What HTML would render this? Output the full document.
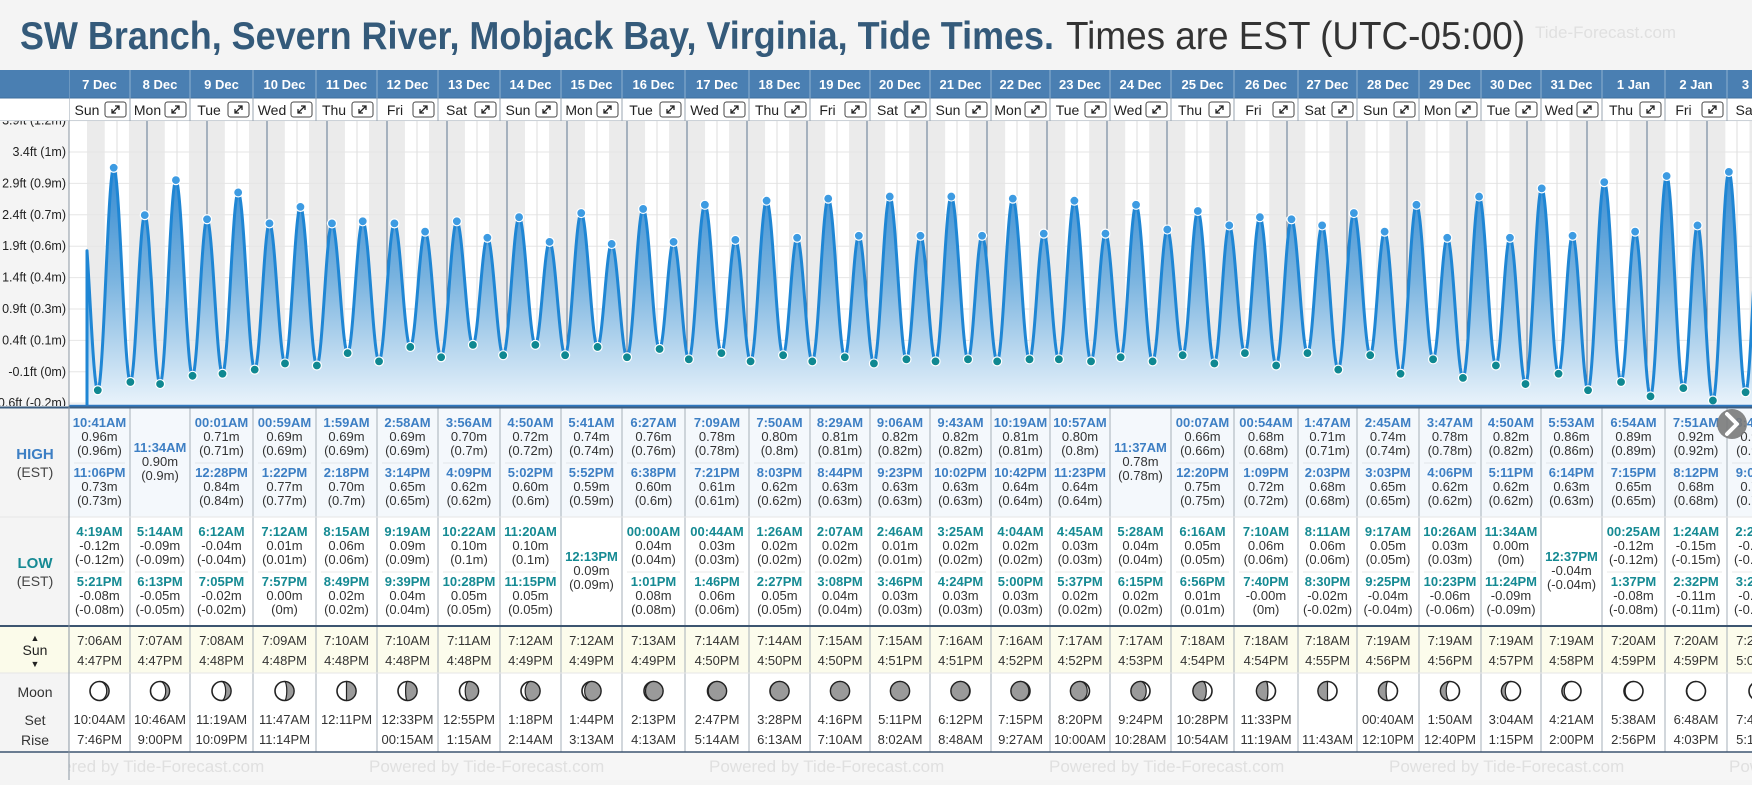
<!DOCTYPE html>
<html><head><meta charset="utf-8">
<style>
html,body{margin:0;padding:0;background:#f4f4f4;}
body{width:1752px;height:780px;overflow:hidden;font-family:"Liberation Sans",Arial,sans-serif;}
svg text{font-family:"Liberation Sans",Arial,sans-serif;}
</style></head>
<body>
<svg id="root" width="1752" height="780" viewBox="0 0 1752 780" xmlns="http://www.w3.org/2000/svg">
<defs>
<linearGradient id="fillGrad" gradientUnits="userSpaceOnUse" x1="0" y1="150" x2="0" y2="405">
<stop offset="0" stop-color="#2a84cf"/><stop offset="0.5" stop-color="#79b3df"/><stop offset="1" stop-color="#e9f3fb"/>
</linearGradient>
<clipPath id="chartClip"><rect x="69" y="121" width="1683" height="285"/></clipPath>
<clipPath id="axisClip"><rect x="0" y="121" width="69" height="285"/></clipPath>
<clipPath id="tableClip"><rect x="69" y="60" width="1683" height="720"/></clipPath>
</defs>
<rect x="0" y="0" width="1752" height="780" fill="#f4f4f4"/>
<text x="20" y="49" font-size="39" fill="#345a7a" font-weight="bold" textLength="1034" lengthAdjust="spacingAndGlyphs">SW Branch, Severn River, Mobjack Bay, Virginia, Tide Times.</text>
<text x="1066" y="49" font-size="39" fill="#333" textLength="459" lengthAdjust="spacingAndGlyphs">Times are EST (UTC-05:00)</text>
<text x="1535" y="38" font-size="17" fill="#e0e0e0">Tide-Forecast.com</text>
<g id="chart"></g>
<g id="table"></g>
</svg>
<script>
const days=['7 Dec','8 Dec','9 Dec','10 Dec','11 Dec','12 Dec','13 Dec','14 Dec','15 Dec','16 Dec','17 Dec','18 Dec','19 Dec','20 Dec','21 Dec','22 Dec','23 Dec','24 Dec','25 Dec','26 Dec','27 Dec','28 Dec','29 Dec','30 Dec','31 Dec','1 Jan','2 Jan','3 Jan'];
const dows=['Sun','Mon','Tue','Wed','Thu','Fri','Sat','Sun','Mon','Tue','Wed','Thu','Fri','Sat','Sun','Mon','Tue','Wed','Thu','Fri','Sat','Sun','Mon','Tue','Wed','Thu','Fri','Sat'];
const highTimes=[['10:41AM','11:06PM'],['11:34AM'],['00:01AM','12:28PM'],['00:59AM','1:22PM'],['1:59AM','2:18PM'],['2:58AM','3:14PM'],['3:56AM','4:09PM'],['4:50AM','5:02PM'],['5:41AM','5:52PM'],['6:27AM','6:38PM'],['7:09AM','7:21PM'],['7:50AM','8:03PM'],['8:29AM','8:44PM'],['9:06AM','9:23PM'],['9:43AM','10:02PM'],['10:19AM','10:42PM'],['10:57AM','11:23PM'],['11:37AM'],['00:07AM','12:20PM'],['00:54AM','1:09PM'],['1:47AM','2:03PM'],['2:45AM','3:03PM'],['3:47AM','4:06PM'],['4:50AM','5:11PM'],['5:53AM','6:14PM'],['6:54AM','7:15PM'],['7:51AM','8:12PM'],['8:45AM','9:06PM']];
const highVals=[[0.96,0.73],[0.90],[0.71,0.84],[0.69,0.77],[0.69,0.70],[0.69,0.65],[0.70,0.62],[0.72,0.60],[0.74,0.59],[0.76,0.60],[0.78,0.61],[0.80,0.62],[0.81,0.63],[0.82,0.63],[0.82,0.63],[0.81,0.64],[0.80,0.64],[0.78],[0.66,0.75],[0.68,0.72],[0.71,0.68],[0.74,0.65],[0.78,0.62],[0.82,0.62],[0.86,0.63],[0.89,0.65],[0.92,0.68],[0.94,0.71]];
const lowTimes=[['4:19AM','5:21PM'],['5:14AM','6:13PM'],['6:12AM','7:05PM'],['7:12AM','7:57PM'],['8:15AM','8:49PM'],['9:19AM','9:39PM'],['10:22AM','10:28PM'],['11:20AM','11:15PM'],['12:13PM'],['00:00AM','1:01PM'],['00:44AM','1:46PM'],['1:26AM','2:27PM'],['2:07AM','3:08PM'],['2:46AM','3:46PM'],['3:25AM','4:24PM'],['4:04AM','5:00PM'],['4:45AM','5:37PM'],['5:28AM','6:15PM'],['6:16AM','6:56PM'],['7:10AM','7:40PM'],['8:11AM','8:30PM'],['9:17AM','9:25PM'],['10:26AM','10:23PM'],['11:34AM','11:24PM'],['12:37PM'],['00:25AM','1:37PM'],['1:24AM','2:32PM'],['2:22AM','3:26PM']];
const lowVals=[[-0.12,-0.08],[-0.09,-0.05],[-0.04,-0.02],[0.01,0.00],[0.06,0.02],[0.09,0.04],[0.10,0.05],[0.10,0.05],[0.09],[0.04,0.08],[0.03,0.06],[0.02,0.05],[0.02,0.04],[0.01,0.03],[0.02,0.03],[0.02,0.03],[0.03,0.02],[0.04,0.02],[0.05,0.01],[0.06,-0],[0.06,-0.02],[0.05,-0.04],[0.03,-0.06],[0.00,-0.09],[-0.04],[-0.12,-0.08],[-0.15,-0.11],[-0.17,-0.13]];
const sunRise=['7:06AM','7:07AM','7:08AM','7:09AM','7:10AM','7:10AM','7:11AM','7:12AM','7:12AM','7:13AM','7:14AM','7:14AM','7:15AM','7:15AM','7:16AM','7:16AM','7:17AM','7:17AM','7:18AM','7:18AM','7:18AM','7:19AM','7:19AM','7:19AM','7:19AM','7:20AM','7:20AM','7:20AM'];
const sunSet=['4:47PM','4:47PM','4:48PM','4:48PM','4:48PM','4:48PM','4:48PM','4:49PM','4:49PM','4:49PM','4:50PM','4:50PM','4:50PM','4:51PM','4:51PM','4:52PM','4:52PM','4:53PM','4:54PM','4:54PM','4:55PM','4:56PM','4:56PM','4:57PM','4:58PM','4:59PM','4:59PM','5:00PM'];
const moonRow1=['10:04AM','10:46AM','11:19AM','11:47AM','12:11PM','12:33PM','12:55PM','1:18PM','1:44PM','2:13PM','2:47PM','3:28PM','4:16PM','5:11PM','6:12PM','7:15PM','8:20PM','9:24PM','10:28PM','11:33PM','','00:40AM','1:50AM','3:04AM','4:21AM','5:38AM','6:48AM','7:47AM'];
const moonRow2=['7:46PM','9:00PM','10:09PM','11:14PM','','00:15AM','1:15AM','2:14AM','3:13AM','4:13AM','5:14AM','6:13AM','7:10AM','8:02AM','8:48AM','9:27AM','10:00AM','10:28AM','10:54AM','11:19AM','11:43AM','12:10PM','12:40PM','1:15PM','2:00PM','2:56PM','4:03PM','5:18PM'];
const moonDark=[0.12,0.2,0.28,0.38,0.5,0.6,0.7,0.78,0.86,0.92,0.96,0.99,1,1,0.98,0.94,0.88,0.8,0.7,0.6,0.5,0.4,0.3,0.2,0.12,0.06,0.02,0];
const moonWaxing=[0,0,0,0,0,0,0,0,0,0,0,0,0,1,1,1,1,1,1,1,1,1,1,1,1,1,1,1];
const axisFt=[-0.6,-0.1,0.4,0.9,1.4,1.9,2.4,2.9,3.4,3.9];
const axisM=['-0.2m','0m','0.1m','0.3m','0.4m','0.6m','0.7m','0.9m','1m','1.2m'];
const leadHighTime=-1.9, leadHighVal=0.74;
const colEdges=[69,130,190,253,316,377,438,500,561,622,685,749,810,870,930,991,1050,1110,1171,1234,1298,1357,1419,1481,1541,1602,1665,1727,1790];

const NS='http://www.w3.org/2000/svg';
function mk(parent,tag,attrs,txt){const e=document.createElementNS(NS,tag);for(const k in attrs)e.setAttribute(k,attrs[k]);if(txt!==undefined)e.textContent=txt;parent.appendChild(e);return e;}
function parseT(s){const m=s.match(/(\d+):(\d+)(AM|PM)/);let h=(+m[1])%12;if(m[3]==='PM')h+=12;return h+(+m[2])/60;}
const X0=87,PXD=60,Y0=365.5,PXM=206;
function xOf(d,h){return X0+PXD*(d+h/24);}
function yOf(m){return Y0-PXM*m;}
function fmtV(v){return (Object.is(v,-0)?'-0.00':v.toFixed(2))+'m';}
function fmtP(v){return '('+parseFloat(v.toFixed(2))+'m)';}

const chart=document.getElementById('chart');
const table=document.getElementById('table');
// header bar
let e=mk(chart,'rect',{x:0,y:70,width:1752,height:28,fill:'#4a7fb2'});


e=mk(chart,'rect',{x:0,y:98,width:1752,height:23,fill:'#ffffff'});


mk(chart,'line',{x1:0,y1:98,x2:1752,y2:98,stroke:'#3f6f9e','stroke-width':1});
mk(chart,'line',{x1:0,y1:121,x2:1752,y2:121,stroke:'#9aa6b2','stroke-width':1});
// plot area bg
e=mk(chart,'rect',{x:69,y:121,width:1683,height:285,fill:'#ffffff'});


e=mk(chart,'rect',{x:0,y:121,width:69,height:286,fill:'#f4f4f4'});



const plot=mk(chart,'g',{'clip-path':'url(#chartClip)'});
// night bands
for(let d=0;d<days.length+1;d++){
  const r=d<days.length?parseT(sunRise[d]):7.33, s=d<days.length?parseT(sunSet[d]):17;
  e=mk(plot,'rect',{x:xOf(d,0),y:121,width:xOf(d,r)-xOf(d,0),height:285,fill:'#ebebeb'});
  
  
  e=mk(plot,'rect',{x:xOf(d,s),y:121,width:xOf(d,24)-xOf(d,s),height:285,fill:'#ebebeb'});
  
  
}
// horizontal grid
axisFt.forEach(f=>{const y=yOf(f*0.3048);e=mk(plot,'line',{x1:69,x2:1752,y1:y,y2:y,stroke:'#e6e6e6','stroke-width':1});

});
// vertical lines
for(let d=0;d<=days.length;d++){
  e=mk(plot,'line',{x1:xOf(d,12),x2:xOf(d,12),y1:121,y2:406,stroke:'#dedede','stroke-width':1});
  
  
  if(d>0){e=mk(plot,'line',{x1:xOf(d,0),x2:xOf(d,0),y1:121,y2:406,stroke:'#5f7790','stroke-width':1});
  
  }
}
// extremes
const ext=[{t:leadHighTime,v:leadHighVal,h:1,lead:1}];
days.forEach((_,d)=>{
  const list=[];
  highTimes[d].forEach((t,i)=>list.push({t:d*24+parseT(t),v:highVals[d][i],h:1}));
  lowTimes[d].forEach((t,i)=>list.push({t:d*24+parseT(t),v:lowVals[d][i],h:0}));
  list.sort((a,b)=>a.t-b.t);ext.push(...list);
});
let pts=[];
for(let i=0;i<ext.length-1;i++){
  const a=ext[i],b=ext[i+1];
  for(let t=Math.max(a.t,0);t<b.t;t+=0.2){
    const f=(t-a.t)/(b.t-a.t);const v=a.v+(b.v-a.v)*(1-Math.cos(Math.PI*f))/2;
    pts.push([X0+PXD*t/24,yOf(v)]);
  }
}
const last=ext[ext.length-1];pts.push([X0+PXD*last.t/24,yOf(last.v)]);
const line=pts.map((p,i)=>(i?'L':'M')+p[0].toFixed(1)+' '+p[1].toFixed(1)).join(' ');
e=mk(plot,'path',{d:line+' L'+pts[pts.length-1][0].toFixed(1)+' 406 L'+X0+' 406 Z',fill:'url(#fillGrad)'});


e=mk(plot,'path',{d:'M'+X0+' 406 L'+pts[0][0]+' '+pts[0][1]+' '+line.slice(1),fill:'none',stroke:'#1f86d4','stroke-width':3,'stroke-linejoin':'round'});


ext.forEach(p=>{if(p.lead)return;
  e=mk(plot,'circle',{cx:X0+PXD*p.t/24,cy:yOf(p.v),r:4.5,fill:p.h?'#3d9be2':'#0f8891',stroke:'#fff','stroke-width':1.2});
  
  
});
mk(chart,'line',{x1:69,x2:1752,y1:406,y2:406,stroke:'#2f78c0','stroke-width':2.5});
mk(chart,'line',{x1:69,x2:69,y1:121,y2:407,stroke:'#8a96a2','stroke-width':1});
// y axis labels
const ax=mk(chart,'g',{'clip-path':'url(#axisClip)'});
axisFt.forEach((f,i)=>{e=mk(ax,'text',{x:66,y:yOf(f*0.3048)+4,'font-size':12.5,fill:'#222','text-anchor':'end'},f+'ft ('+axisM[i]+')');

});

// table backgrounds
const T=mk(table,'g',{});
[[407,110,'#f4f8fc','high-section'],[517,109,'#ffffff','low-section'],[626,47,'#fcfcec','sun-section'],[673,79,'#ffffff','moon-section']].forEach(r=>{
  e=mk(T,'rect',{x:69,y:r[0],width:1683,height:r[1],fill:r[2]});
  
  
});
e=mk(T,'rect',{x:0,y:407,width:69,height:345,fill:'#f4f4f4'});


mk(T,'rect',{x:0,y:626,width:69,height:47,fill:'#fbfbea'});
mk(T,'rect',{x:69,y:752,width:1683,height:28,fill:'#f6f6f6'});
// labels
function lbl(x,y,s,t,fill,w,name){e=mk(T,'text',{x:x,y:y,'font-size':s,fill:fill,'font-weight':w,'text-anchor':'middle'},t);

}
lbl(35,459,15,'HIGH','#3d7fc4','bold','high-label');lbl(35,477,14,'(EST)','#444','normal','high-tz-label');
lbl(35,568,15,'LOW','#178a94','bold','low-label');lbl(35,586,14,'(EST)','#444','normal','low-tz-label');
lbl(35,641,9,'▲','#222','normal','sunrise-marker');lbl(35,655,14,'Sun','#222','normal','sun-label');lbl(35,667,9,'▼','#222','normal','sunset-marker');
lbl(35,697,14,'Moon','#333','normal','moon-label');lbl(35,725,14,'Set','#333','normal','moon-set-label');lbl(35,745,14,'Rise','#333','normal','moon-rise-label');

const C=mk(table,'g',{'clip-path':'url(#tableClip)'});
// footer watermarks
for(let k=0;k<6;k++){e=mk(C,'text',{x:29+340*k,y:772,'font-size':17,fill:'#e0e0e0'},'Powered by Tide-Forecast.com');

}
function ct(x,y,s,t,fill,w,name){e=mk(C,'text',{x:x,y:y,'font-size':s,fill:fill,'font-weight':w,'text-anchor':'middle'},t);

}
function tideEntries(times,vals,y1,ySingle,color,name){
  if(times.length===1){return [[times[0],vals[0],ySingle]];}
  return times.map((t,i)=>[t,vals[i],y1+i*50]);
}
days.forEach((d,i)=>{
  const a=colEdges[i],b=colEdges[i+1],cx=(a+b)/2;
  ct(cx,89,13,d,'#ffffff','bold','date-header');
  const lx=(a+b-25)/2;
  ct(lx,115,14,dows[i],'#222','normal','weekday-label');
  e=mk(C,'rect',{x:b-25,y:102,width:21,height:15,rx:2.5,fill:'#fff',stroke:'#444','stroke-width':1});
  
  
  const ix=b-25,iy=102;
  mk(C,'path',{d:`M${ix+7} ${iy+11} L${ix+14} ${iy+4} M${ix+10} ${iy+4} L${ix+14} ${iy+4} L${ix+14} ${iy+8} M${ix+7} ${iy+7} L${ix+7} ${iy+11} L${ix+11} ${iy+11}`,stroke:'#222','stroke-width':1.3,fill:'none'});
  tideEntries(highTimes[i],highVals[i],427,452).forEach(en=>{
    ct(cx,en[2],13,en[0],'#3d7fc4','bold','high-tide-time');
    ct(cx,en[2]+14,13,fmtV(en[1]),'#333','normal','high-tide-height');
    ct(cx,en[2]+28,13,fmtP(en[1]),'#333','normal','high-tide-height-alt');
  });
  if(highTimes[i].length>1)mk(C,'line',{x1:a+5,x2:b-5,y1:463,y2:463,stroke:'#e2e6ea'});
  tideEntries(lowTimes[i],lowVals[i],536,561).forEach(en=>{
    ct(cx,en[2],13,en[0],'#158a93','bold','low-tide-time');
    ct(cx,en[2]+14,13,fmtV(en[1]),'#333','normal','low-tide-height');
    ct(cx,en[2]+28,13,fmtP(en[1]),'#333','normal','low-tide-height-alt');
  });
  if(lowTimes[i].length>1)mk(C,'line',{x1:a+5,x2:b-5,y1:572,y2:572,stroke:'#e8e8e8'});
  ct(cx,645,13,sunRise[i],'#333','normal','sunrise-time');
  ct(cx,665,13,sunSet[i],'#333','normal','sunset-time');
  // moon icon
  const my=691,r=9.5,k=moonDark[i];
  e=mk(C,'circle',{cx:cx,cy:my,r:r,fill:'#fff',stroke:'#222','stroke-width':1.6});
  
  
  if(k>0){
    const rx=Math.abs(1-2*k)*r, right=!moonWaxing[i];
    const s1=right?1:0; let s2=(k<0.5)?0:1; if(!right)s2=1-s2;
    mk(C,'path',{d:`M${cx} ${my-r} A${r} ${r} 0 0 ${s1} ${cx} ${my+r} A${rx.toFixed(2)} ${r} 0 0 ${s2} ${cx} ${my-r} Z`,fill:'#9a9a9a',stroke:'#222','stroke-width':1.2});
  }
  if(moonRow1[i])ct(cx,724,13,moonRow1[i],'#333','normal','moonset-time');
  if(moonRow2[i])ct(cx,744,13,moonRow2[i],'#333','normal','moonrise-time');
});
// column separators
colEdges.forEach((x,i)=>{
  mk(C,'line',{x1:x,x2:x,y1:70,y2:98,stroke:'#8fb0d0','stroke-width':1});
  e=mk(C,'line',{x1:x,x2:x,y1:98,y2:121,stroke:'#9aa6b2','stroke-width':1});
  e=mk(C,'line',{x1:x,x2:x,y1:407,y2:752,stroke:'#a6afb8','stroke-width':1});
  
  
});
mk(table,'line',{x1:0,x2:1752,y1:517,y2:517,stroke:'#e6e6e6'});
mk(table,'line',{x1:0,x2:1752,y1:673,y2:673,stroke:'#e6e6e6'});
mk(table,'line',{x1:0,x2:1752,y1:407.5,y2:407.5,stroke:'#3d5e80','stroke-width':2});
mk(table,'line',{x1:0,x2:1752,y1:626,y2:626,stroke:'#3d5570','stroke-width':2});
mk(table,'line',{x1:0,x2:1752,y1:752,y2:752,stroke:'#3d5570','stroke-width':1.5});
mk(table,'line',{x1:69,x2:69,y1:407,y2:780,stroke:'#8a96a2','stroke-width':1});
// next button
e=mk(table,'circle',{cx:1732,cy:424,r:15,fill:'#7a7a7a','fill-opacity':0.9});


mk(table,'path',{d:'M1727 414 L1737 424 L1727 434',fill:'none',stroke:'#fff','stroke-width':4,'stroke-linecap':'round','stroke-linejoin':'round'});
</script>
</body></html>
